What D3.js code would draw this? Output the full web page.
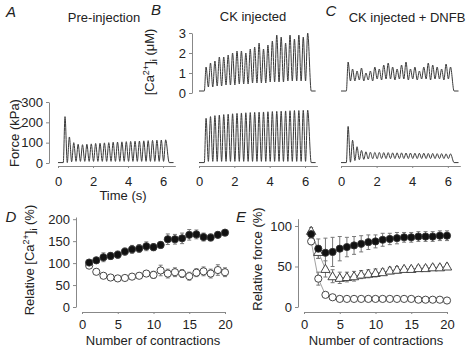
<!DOCTYPE html>
<html>
<head>
<meta charset="utf-8">
<script src="https://cdn.jsdelivr.net/npm/d3@7"></script>
<style>
  body { margin: 0; background: #fff; }
  text { font-family: "Liberation Sans", Arial, sans-serif; fill: #222; }
</style>
</head>
<body>
<div id="wrapper"></div>
<script>
// ---- data ----
// contraction times (s) for the tetanic trains
const pulseTimes = [0.40, 0.65, 0.90, 1.15, 1.40, 1.65, 1.90, 2.15, 2.40, 2.65, 2.90, 3.15,
  3.40, 3.65, 3.90, 4.15, 4.40, 4.65, 4.90, 5.15, 5.40, 5.65, 5.90, 6.15]
const troughTimes = [0.53, 0.78, 1.03, 1.28, 1.53, 1.78, 2.03, 2.28, 2.53, 2.78, 3.03, 3.28,
  3.53, 3.78, 4.03, 4.28, 4.53, 4.78, 5.03, 5.28, 5.53, 5.78, 6.03]
const startTimes = [0, 0.3]
const endTimes = [6.35, 6.6]

// force (kPa)
const forceA_peaks = [228, 128, 100, 92, 90, 92, 94, 96, 97, 99, 100, 102, 103, 104, 105, 106,
  107, 108, 109, 110, 111, 112, 113, 114]
const forceA_troughs = [2, 6, 8, 8, 8, 8, 8, 8, 8, 8, 8, 8, 8, 8, 8, 8, 8, 8, 8, 8, 8, 8, 8]
const forceB_peaks = [220, 228, 233, 236, 238, 240, 242, 244, 246, 247, 248, 249, 250, 251, 252,
  253, 254, 255, 256, 257, 258, 258, 259, 260]
const forceB_troughs = [8, 8, 8, 8, 8, 8, 8, 8, 8, 8, 8, 8, 8, 8, 8, 8, 8, 8, 8, 8, 8, 8, 8]
const forceC_peaks = [180, 112, 80, 62, 55, 53, 52, 52, 51, 51, 50, 50, 50, 49, 49, 48, 48, 48,
  47, 47, 46, 46, 45, 45]
const forceC_troughs = [4, 12, 16, 18, 20, 21, 21, 22, 22, 22, 22, 22, 22, 22, 22, 22, 22, 22,
  22, 22, 22, 22, 22]
const forceBase = [2, 2]

// [Ca2+]i (uM)
const caB_peaks = [1.3, 1.5, 1.6, 1.8, 1.8, 1.9, 2.0, 2.1, 2.1, 2.0, 2.2, 2.3, 2.5, 2.2, 2.4,
  2.6, 2.9, 2.8, 2.5, 2.9, 2.7, 2.9, 2.8, 3.0]
const caB_troughs = [0.3, 0.3, 0.35, 0.35, 0.4, 0.4, 0.4, 0.45, 0.45, 0.45, 0.5, 0.5, 0.5, 0.5,
  0.55, 0.55, 0.55, 0.55, 0.6, 0.6, 0.6, 0.6, 0.6]
const caC_peaks = [1.55, 1.2, 1.1, 1.25, 1.0, 1.1, 1.3, 1.2, 1.4, 1.5, 1.3, 1.2, 1.4, 1.55, 1.2,
  1.3, 1.1, 1.3, 1.5, 1.4, 1.3, 1.2, 1.45, 1.3]
const caC_troughs = [0.6, 0.6, 0.65, 0.6, 0.65, 0.6, 0.7, 0.65, 0.7, 0.7, 0.65, 0.7, 0.7, 0.65,
  0.7, 0.65, 0.7, 0.7, 0.65, 0.7, 0.7, 0.65, 0.7]
const caBase = [0.1, 0.1]

// D: relative [Ca2+]i (%)
const contractions = [1, 2, 3, 4, 5, 6, 7, 8, 9, 10, 11, 12, 13, 14, 15, 16, 17, 18, 19, 20]
const dFilled = [101, 106, 113, 116, 119, 126, 131, 133, 138, 136, 141, 154, 154, 156, 164, 165, 159, 158, 164, 169]
const dFilledErr = [5, 7, 10, 8, 8, 8, 9, 9, 10, 8, 7, 12, 11, 12, 12, 10, 9, 8, 7, 6]
const dOpen = [94, 80, 71, 67, 65, 66, 69, 71, 76, 73, 83, 76, 79, 76, 70, 78, 81, 76, 84, 79]
const dOpenErr = [6, 6, 5, 4, 4, 5, 5, 6, 6, 8, 12, 10, 10, 9, 9, 9, 10, 10, 12, 10]

// E: relative force (%)
const eFilled = [90, 72, 67, 68, 72, 74, 76, 78, 80, 81, 83, 84, 85, 86, 86, 87, 87, 87, 88, 88]
const eFilledErr = [4, 12, 18, 18, 15, 12, 11, 10, 9, 8, 8, 7, 7, 6, 6, 6, 6, 6, 6, 6]
const eTri = [94, 68, 47, 38, 36, 37, 38, 40, 41, 42, 43, 45, 46, 47, 47, 48, 48, 49, 49, 50]
const eTriErr = [4, 8, 10, 8, 7, 6, 6, 5, 5, 5, 4, 4, 4, 3, 3, 3, 3, 3, 3, 3]
const eOpen = [81, 35, 15, 12, 10, 10, 10, 10, 10, 10, 10, 10, 10, 10, 10, 9, 9, 9, 9, 8]
const eOpenErr = [4, 8, 3, 2, 2, 2, 2, 2, 2, 2, 2, 2, 2, 2, 2, 2, 2, 2, 2, 2]

// ---- canvas ----
const svg = d3.select("#wrapper").append("svg")
  .attr("width", 468).attr("height", 347)
  .style("background", "#fff")

const axisColor = "#888"
const traceColor = "#3a3a3a"
const fmt = d3.format("d")

const styleAxis = (g) => {
  g.selectAll(".domain").attr("stroke", axisColor)
  g.selectAll(".tick line").attr("stroke", axisColor)
  g.selectAll(".tick text").style("font-size", "13px").attr("fill", "#222")
}

// build [t, value] points for a trace
const buildTrace = (peaks, troughs, base) => {
  const pts = startTimes.map((t, i) => [t, base[i]])
  peaks.forEach((p, i) => {
    pts.push([pulseTimes[i], p])
    if (i < troughs.length) pts.push([troughTimes[i], troughs[i]])
  })
  endTimes.forEach((t, i) => pts.push([t, base[i]]))
  return pts
}

// ---- top panels ----
const forceY = d3.scaleLinear().domain([0, 300]).range([163, 102])
const caY = d3.scaleLinear().domain([0, 3]).range([93, 33])

const panels = [
  { x0: 58, x1: 175.3, force: [forceA_peaks, forceA_troughs] },
  { x0: 199, x1: 317.4, force: [forceB_peaks, forceB_troughs], ca: [caB_peaks, caB_troughs] },
  { x0: 341, x1: 460.3, force: [forceC_peaks, forceC_troughs], ca: [caC_peaks, caC_troughs] },
]

panels.forEach((p) => {
  const x = d3.scaleLinear().domain([0, 6.7]).range([p.x0, p.x1])
  const line = (y) => d3.line().x((d) => x(d[0])).y((d) => y(d[1])).curve(d3.curveMonotoneX)

  svg.append("path")
    .datum(buildTrace(p.force[0], p.force[1], forceBase))
    .attr("d", line(forceY))
    .attr("fill", "none").attr("stroke", traceColor).attr("stroke-width", 1)

  if (p.ca) {
    svg.append("path")
      .datum(buildTrace(p.ca[0], p.ca[1], caBase))
      .attr("d", line(caY))
      .attr("fill", "none").attr("stroke", traceColor).attr("stroke-width", 1)
  }

  svg.append("g")
    .attr("transform", "translate(0,166)")
    .call(d3.axisBottom(x).tickValues([0, 2, 4, 6]).tickFormat(fmt)
      .tickSize(2).tickSizeOuter(0).tickPadding(9))
    .call(styleAxis)
})

svg.append("g")
  .attr("transform", "translate(49,0)")
  .call(d3.axisLeft(forceY).tickValues([0, 100, 200, 300]).tickFormat(fmt)
    .tickSize(3).tickSizeOuter(0).tickPadding(3))
  .call(styleAxis)

svg.append("g")
  .attr("transform", "translate(192,0)")
  .call(d3.axisLeft(caY).tickValues([0, 1, 2, 3]).tickFormat(fmt)
    .tickSize(3).tickSizeOuter(0).tickPadding(3))
  .call(styleAxis)

// titles and labels
const addText = (x, y, txt, opts = {}) => {
  const t = svg.append("text")
    .attr("x", x).attr("y", y)
    .attr("text-anchor", opts.anchor || "middle")
    .style("font-size", opts.size || "13px")
    .style("font-style", opts.italic ? "italic" : "normal")
  if (opts.rotate) t.attr("transform", `rotate(-90,${x},${y})`)
  if (opts.html) t.html(txt)
  else t.text(txt)
  return t
}

addText(11, 17, "A", { size: "15px", italic: true })
addText(156, 15, "B", { size: "15px", italic: true })
addText(331, 16, "C", { size: "15px", italic: true })
addText(104, 22, "Pre-injection")
addText(253, 21, "CK injected")
addText(407, 22, "CK injected + DNFB")
addText(123, 200, "Time (s)")
addText(19, 133, "Force (kPa)", { rotate: true })
addText(154, 62,
  '[Ca<tspan dy="-5" font-size="9px">2+</tspan><tspan dy="5">]</tspan><tspan dy="3" font-size="9px">i</tspan><tspan dy="-3"> (μM)</tspan>',
  { rotate: true, html: true })

// ---- bottom panels ----
const errorBars = (g, x, y, vals, errs) => {
  g.selectAll(null).data(vals).join("g").each(function (d, i) {
    const s = d3.select(this)
    const cx = x(contractions[i])
    const hi = y(d + errs[i]), lo = y(d - errs[i])
    s.append("line").attr("x1", cx).attr("x2", cx).attr("y1", hi).attr("y2", lo)
    s.append("line").attr("x1", cx - 2).attr("x2", cx + 2).attr("y1", hi).attr("y2", hi)
    s.append("line").attr("x1", cx - 2).attr("x2", cx + 2).attr("y1", lo).attr("y2", lo)
  })
  g.selectAll("line").attr("stroke", "#777").attr("stroke-width", 1)
}

const drawCircles = (x, y, vals, filled) => {
  svg.append("g").selectAll("circle").data(vals).join("circle")
    .attr("cx", (d, i) => x(contractions[i]))
    .attr("cy", (d) => y(d))
    .attr("r", 3.6)
    .attr("fill", filled ? "#111" : "#fff")
    .attr("stroke", "#333").attr("stroke-width", 0.9)
}

const connect = (x, y, vals) => {
  svg.append("path")
    .datum(vals)
    .attr("d", d3.line().x((d, i) => x(contractions[i])).y((d) => y(d)))
    .attr("fill", "none").attr("stroke", "#777").attr("stroke-width", 0.7)
}

// D
const dX = d3.scaleLinear().domain([0, 20]).range([82, 225])
const dY = d3.scaleLinear().domain([0, 200]).range([307, 219])

svg.append("g").attr("transform", "translate(76,0)")
  .call(d3.axisLeft(dY.copy().domain([0, 205]).range([307, 217])).tickValues([0, 50, 100, 150, 200])
    .tickFormat(fmt).tickSize(3).tickSizeOuter(0).tickPadding(3))
  .call(styleAxis)
svg.append("g").attr("transform", "translate(0,312)")
  .call(d3.axisBottom(dX).tickValues([0, 5, 10, 15, 20]).tickFormat(fmt)
    .tickSize(2).tickSizeOuter(0).tickPadding(6))
  .call(styleAxis)

errorBars(svg.append("g"), dX, dY, dOpen, dOpenErr)
errorBars(svg.append("g"), dX, dY, dFilled, dFilledErr)
drawCircles(dX, dY, dOpen, false)
drawCircles(dX, dY, dFilled, true)

addText(11, 222, "D", { size: "15px", italic: true })
addText(153, 345, "Number of contractions")
addText(34, 260,
  'Relative [Ca<tspan dy="-5" font-size="9px">2+</tspan><tspan dy="5">]</tspan><tspan dy="3" font-size="9px">i</tspan><tspan dy="-3"> (%)</tspan>',
  { rotate: true, html: true })

// E
const eX = d3.scaleLinear().domain([0, 20]).range([304, 447])
const eY = d3.scaleLinear().domain([0, 100]).range([307, 226])

svg.append("g").attr("transform", "translate(298,0)")
  .call(d3.axisLeft(eY.copy().domain([0, 109]).range([307, 218.7])).tickValues([0, 50, 100])
    .tickFormat(fmt).tickSize(3).tickSizeOuter(0).tickPadding(3))
  .call(styleAxis)
svg.append("g").attr("transform", "translate(0,312)")
  .call(d3.axisBottom(eX).tickValues([0, 5, 10, 15, 20]).tickFormat(fmt)
    .tickSize(2).tickSizeOuter(0).tickPadding(6))
  .call(styleAxis)

connect(eX, eY, eOpen)
connect(eX, eY, eTri)
connect(eX, eY, eFilled)
errorBars(svg.append("g"), eX, eY, eOpen, eOpenErr)
errorBars(svg.append("g"), eX, eY, eTri, eTriErr)
errorBars(svg.append("g"), eX, eY, eFilled, eFilledErr)
drawCircles(eX, eY, eOpen, false)
svg.append("g").selectAll("path").data(eTri).join("path")
  .attr("d", d3.symbol(d3.symbolTriangle, 38))
  .attr("transform", (d, i) => `translate(${eX(contractions[i])},${eY(d) + 0.8})`)
  .attr("fill", "#fff").attr("stroke", "#333").attr("stroke-width", 0.9)
drawCircles(eX, eY, eFilled, true)

addText(241, 222, "E", { size: "15px", italic: true })
addText(376, 345, "Number of contractions")
addText(262, 259, "Relative force (%)", { rotate: true })
</script>
</body>
</html>
